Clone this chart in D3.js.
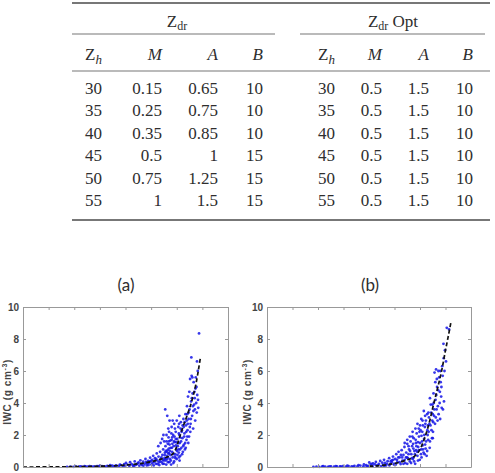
<!DOCTYPE html>
<html>
<head>
<meta charset="utf-8">
<script src="https://cdn.jsdelivr.net/npm/d3@7"></script>
<style>
  html, body { margin: 0; padding: 0; background: #fff; overflow: hidden; }
  svg { display: block; }
</style>
</head>
<body>
<svg id="viz"></svg>
<script>
// table values
var zhValues = ["30", "35", "40", "45", "50", "55"]
var zdrM = ["0.15", "0.25", "0.35", "0.5", "0.75", "1"]
var zdrA = ["0.65", "0.75", "0.85", "1", "1.25", "1.5"]
var zdrB = ["10", "10", "10", "15", "15", "15"]
var optM = ["0.5", "0.5", "0.5", "0.5", "0.5", "0.5"]
var optA = ["1.5", "1.5", "1.5", "1.5", "1.5", "1.5"]
var optB = ["10", "10", "10", "10", "10", "10"]

// scatter panels: [reflectivity dBZ, IWC]
var xTicks = [-10, 0, 10, 20, 30, 40, 50, 60, 70]
var yTicks = [0, 2, 4, 6, 8, 10]

var pointsA = [
  [7.2,0.01],[8.5,0.02],[9.8,0.01],[10.6,0.03],[11.9,0.02],[13.1,0.01],[14.4,0.03],[15.2,0.02],[16.7,0.04],[17.5,0.02],
  [18.9,0.05],[19.6,0.03],[20.8,0.06],[21.7,0.04],[22.9,0.07],[23.6,0.03],[24.8,0.08],[25.5,0.05],[26.3,0.1],[27.4,0.06],
  [28.2,0.12],[29.1,0.04],[29.9,0.09],[30.7,0.15],[31.5,0.07],[32.4,0.18],[33.2,0.05],[33.9,0.12],[34.7,0.22],[35.4,0.08],
  [12.5,0.04],[14.0,0.05],[16.0,0.06],[18.0,0.02],[20.0,0.08],[22.0,0.02],[24.0,0.11],[26.0,0.03],[27.8,0.15],[29.5,0.18],
  [30.2,0.25],[31.8,0.3],[32.9,0.1],[33.6,0.35],[34.3,0.16],[35.1,0.28],[35.8,0.42],[36.4,0.12],[36.9,0.33],[37.5,0.2],
  [37.8,0.5],[38.3,0.1],[38.8,0.38],[39.2,0.26],[39.6,0.58],[40.1,0.15],[40.4,0.45],[40.8,0.7],[41.2,0.3],[41.5,0.55],
  [41.9,0.2],[42.2,0.85],[42.5,0.4],[42.9,0.65],[43.2,0.12],[43.5,0.95],[43.8,0.5],[44.1,0.3],[44.4,0.75],[44.7,1.1],
  [36.0,0.2],[37.0,0.08],[38.0,0.3],[39.0,0.12],[40.0,0.38],[41.0,0.1],[42.0,0.5],[43.0,0.28],[44.0,0.6],[45.0,0.4],
  [38.5,0.22],[39.5,0.35],[40.5,0.25],[41.5,0.4],[42.5,0.18],[43.5,0.35],[44.5,0.2],[45.5,0.5],[46.5,0.6],[47.5,0.75],
  [45.0,0.2],[45.2,0.55],[45.4,0.9],[45.6,1.3],[45.8,0.4],[46.0,1.6],[46.2,0.7],[46.4,1.05],[46.6,0.3],[46.8,1.85],
  [47.0,0.85],[47.2,1.4],[47.4,0.5],[47.6,1.2],[47.8,0.15],[48.0,1.7],[48.2,0.95],[48.4,0.6],[48.6,2.0],[48.8,1.3],
  [49.0,0.35],[49.2,1.55],[49.4,0.8],[49.6,2.2],[49.8,1.1],[50.0,0.5],[50.2,1.75],[50.4,1.3],[50.6,2.5],[50.8,0.9],
  [51.0,2.0],[51.2,1.5],[51.4,0.7],[51.6,2.8],[51.8,1.2],[52.0,2.3],[52.2,1.8],[52.4,0.95],[52.6,3.0],[52.8,1.4],
  [44.6,0.45],[45.3,0.75],[46.1,0.95],[46.9,1.15],[47.5,1.65],[48.3,1.45],[49.1,1.9],[49.9,1.55],[50.7,1.1],[51.3,1.85],
  [45.9,0.15],[47.1,0.3],[48.7,0.25],[49.5,0.55],[50.3,0.75],[51.1,0.4],[46.5,1.45],[47.9,2.1],[49.3,2.4],[50.9,2.7],
  [46.3,0.5],[46.7,0.85],[47.3,1.0],[47.7,0.4],[48.1,1.2],[48.5,0.8],[48.9,1.6],[49.3,0.65],[49.7,1.35],[50.1,1.0],
  [50.5,1.5],[50.9,0.6],[51.3,1.1],[51.7,1.6],[52.1,0.8],[52.5,1.3],[52.9,1.9],[53.3,1.5],[53.7,2.2],[54.1,1.9],
  [45.7,1.0],[46.9,1.6],[48.2,1.85],[49.6,1.75],[50.8,2.1],[51.9,2.2],[52.7,2.5],[53.5,1.2],[54.3,2.7],[55.1,2.5],
  [42.8,1.3],[43.7,1.5],[44.3,1.75],[45.1,1.6],[46.0,2.0],[47.0,2.2],[48.0,2.5],[49.0,2.7],[50.0,2.9],[51.0,3.2],
  [53.0,2.1],[53.2,1.1],[53.4,3.3],[53.6,2.6],[53.8,1.7],[54.0,3.8],[54.2,2.3],[54.4,4.4],[54.6,3.0],[54.8,1.9],
  [55.0,3.6],[55.2,5.5],[55.4,2.7],[55.6,4.1],[55.8,5.7],[56.0,3.2],[56.2,4.6],[56.4,2.4],[56.6,5.3],[56.8,3.9],
  [57.0,4.3],[57.2,2.9],[57.4,5.6],[57.6,4.0],[57.8,3.4],[58.0,4.5],[58.2,6.0],[58.4,3.7],[58.7,8.35],[55.7,6.85],
  [57.9,6.6],[56.1,5.6],[54.9,4.7],[53.9,2.9],[54.5,1.5],[55.3,2.2],[56.5,3.5],[57.3,4.9],[55.9,4.3],[56.9,4.7],
  [54.7,3.4],[55.5,3.0],[56.3,3.8],[57.1,3.6],[57.7,5.0],[58.3,4.2],[53.1,2.8],[54.1,3.3],[52.3,2.6],[51.5,2.4],
  [45.5,3.6],[46.3,3.2],[47.2,2.9],[44.8,2.0],[46.7,2.4],[48.4,2.9]
]

var fitA = [
  [-10,0],[0,0.005],[10,0.02],[20,0.05],[30,0.12],[35,0.2],[40,0.33],[44,0.5],[47,0.68],[49,0.9],
  [50,1.3],[51,1.8],[52,2.3],[54,3.2],[56,4.2],[57.5,5.2],[58.7,6.3],[59.3,6.9]
]

var pointsB = [
  [8.2,0.01],[9.4,0.02],[10.5,0.01],[11.7,0.03],[12.8,0.02],[13.9,0.01],[15.1,0.03],[16.3,0.02],[17.4,0.04],[18.6,0.03],
  [19.7,0.05],[20.9,0.02],[22.0,0.06],[23.2,0.04],[24.3,0.07],[25.5,0.05],[26.6,0.09],[27.8,0.04],[28.9,0.11],[29.7,0.07],
  [30.6,0.14],[31.4,0.05],[32.3,0.17],[33.1,0.09],[33.9,0.2],[34.8,0.06],[35.6,0.13],[36.3,0.25],
  [12.0,0.05],[14.5,0.04],[17.0,0.06],[19.0,0.02],[21.5,0.08],[23.8,0.02],[25.9,0.12],[28.0,0.16],[29.2,0.03],[31.0,0.2],
  [30.1,0.28],[31.6,0.22],[32.7,0.32],[33.5,0.12],[34.4,0.38],[35.2,0.27],[35.9,0.45],[36.7,0.1],[37.3,0.36],[37.9,0.55],
  [38.4,0.2],[38.9,0.42],[39.4,0.65],[39.8,0.15],[40.3,0.5],[40.7,0.8],[41.1,0.3],[41.6,0.95],[42.0,0.6],[42.4,0.18],
  [42.8,1.05],[43.1,0.4],[43.5,0.75],[43.9,1.25],[44.2,0.25],[44.6,0.9],[45.0,1.45],[45.3,0.55],[45.7,1.1],[46.0,0.35],
  [36.0,0.06],[37.0,0.2],[38.0,0.1],[39.0,0.3],[40.0,0.2],[41.0,0.45],[42.0,0.3],[43.0,0.6],[44.0,0.45],[45.0,0.2],
  [38.5,0.35],[39.5,0.45],[40.5,0.15],[41.5,0.6],[42.5,0.75],[43.5,0.2],[44.5,0.6],[45.5,0.8],[46.5,0.25],[47.5,0.6],
  [46.3,1.6],[46.6,0.8],[46.9,1.3],[47.2,0.5],[47.5,1.8],[47.8,1.0],[48.1,0.2],[48.4,1.5],[48.7,2.1],[49.0,0.7],
  [49.3,1.25],[49.6,1.9],[49.9,0.45],[50.2,2.3],[50.5,1.1],[50.8,1.6],[51.1,2.6],[51.4,0.9],[51.7,2.0],[52.0,1.4],
  [52.3,2.9],[52.6,0.7],[52.9,2.3],[53.2,1.7],[53.5,3.1],[53.8,1.2],[54.1,2.6],[54.4,3.4],[54.7,1.8],
  [46.1,1.0],[47.0,1.9],[47.7,0.35],[48.5,1.05],[49.2,1.55],[49.8,2.2],[50.4,0.8],[51.0,1.35],[51.6,1.75],[52.2,1.15],
  [45.5,1.3],[44.9,0.6],[47.3,1.45],[48.9,0.95],[50.6,1.95],[51.9,2.5],[53.0,2.0],[53.7,2.7],
  [46.8,0.55],[47.4,1.15],[48.0,0.8],[48.6,1.3],[49.2,0.4],[49.6,1.05],[50.0,1.5],[50.6,0.6],[51.2,1.1],[51.8,0.8],
  [52.4,1.6],[52.8,1.0],[53.4,2.2],[53.9,1.6],[54.5,2.3],[55.0,1.8],[48.3,1.7],[49.5,2.4],[50.9,2.2],[52.1,2.7],
  [44.0,1.5],[45.0,1.7],[46.0,1.9],[47.1,2.2],[48.2,2.4],[49.0,2.7],[50.0,2.6],[51.0,2.9],[53.1,2.6],[54.8,2.9],
  [54.9,3.9],[55.1,2.2],[55.3,4.6],[55.5,3.2],[55.7,5.9],[55.9,2.7],[56.1,4.2],[56.3,6.1],[56.5,3.6],[56.7,5.0],
  [56.9,2.9],[57.1,4.8],[57.3,3.3],[57.5,5.6],[57.7,4.0],[57.9,3.0],[58.1,5.3],[58.3,4.4],[58.5,3.7],[58.7,6.3],
  [59.0,3.6],[59.2,7.7],[59.4,4.1],[59.8,7.3],[60.2,6.6],[60.5,8.7],[61.4,8.6],[59.6,6.0],[58.9,5.7],[57.2,6.0],
  [56.0,5.3],[55.0,3.3],[54.2,3.9],[53.3,3.4],[52.8,3.3],[53.9,4.3],[55.4,4.0],[50.5,3.0],[51.5,3.5],[52.0,3.2],
  [55.6,3.6],[56.4,4.5],[57.0,3.8],[57.8,4.7],[58.4,5.0],[56.6,5.5],[55.2,2.8],[56.2,3.1],[58.0,6.0],[59.3,6.8]
]

var fitB = [
  [30,0.05],[35,0.1],[40,0.22],[44,0.4],[48,0.7],[50,1.1],[52,1.9],[54,3.0],[55,3.7],[57,5.0],
  [58.6,6.1],[60,7.3],[61,8.1],[62.2,9.1]
]

var dimensions = { width: 495, height: 473 }
var svg = d3.select("#viz")
    .attr("width", dimensions.width)
    .attr("height", dimensions.height)

var serif = "'Liberation Serif', 'Times New Roman', serif"
var textColor = "#2e2e2e"

// ---------- table ----------
var table = svg.append("g").attr("font-family", serif).attr("font-size", 17).attr("fill", textColor)
var ruleColor = "#777"

var rowY = d3.scaleLinear().domain([0, 5]).range([94, 206])

function rule(x1, x2, y, w) {
    table.append("line")
        .attr("x1", x1).attr("x2", x2)
        .attr("y1", y).attr("y2", y)
        .attr("stroke", ruleColor)
        .attr("stroke-width", w)
}
rule(72, 490, 3, 2)
rule(72, 275, 34, 1.2)
rule(300, 485, 34, 1.2)
rule(72, 490, 71, 1.2)
rule(72, 490, 220, 2)

function zdrHeader(x, suffix) {
    var t = table.append("text").attr("x", x).attr("y", 27).attr("text-anchor", "middle")
    t.append("tspan").text("Z")
    t.append("tspan").attr("font-size", 12).attr("dy", 3).text("dr")
    if (suffix) t.append("tspan").attr("dy", -3).text(" " + suffix)
}
zdrHeader(177, null)
zdrHeader(393, "Opt")

function zhHeader(x, anchor) {
    var t = table.append("text").attr("x", x).attr("y", 60).attr("text-anchor", anchor)
    t.append("tspan").text("Z")
    t.append("tspan").attr("font-style", "italic").attr("font-size", 13).attr("dy", 4).text("h")
}
function italicHeader(x, label) {
    table.append("text").attr("x", x).attr("y", 60).attr("text-anchor", "end")
        .attr("font-style", "italic").text(label)
}

var leftCols = [
    { x: 85, anchor: "start", values: zhValues },
    { x: 162, anchor: "end", values: zdrM, head: "M" },
    { x: 218, anchor: "end", values: zdrA, head: "A" },
    { x: 263, anchor: "end", values: zdrB, head: "B" }
]
var rightCols = [
    { x: 335, anchor: "end", values: zhValues },
    { x: 382, anchor: "end", values: optM, head: "M" },
    { x: 429, anchor: "end", values: optA, head: "A" },
    { x: 473, anchor: "end", values: optB, head: "B" }
]
zhHeader(85, "start")
zhHeader(335, "end")

leftCols.concat(rightCols).forEach(function(col) {
    if (col.head) italicHeader(col.x, col.head)
    table.selectAll(null)
        .data(col.values)
        .enter()
        .append("text")
        .attr("x", col.x)
        .attr("y", (d, i) => rowY(i))
        .attr("text-anchor", col.anchor)
        .text(d => d)
})

// ---------- scatter panels ----------
function drawPanel(opts) {
    var g = svg.append("g")
    var xScale = d3.scaleLinear().domain([-10, 70]).range([opts.left, opts.right])
    var yScale = d3.scaleLinear().domain([0, 10]).range([467, 307])

    g.append("text")
        .attr("x", opts.titleX)
        .attr("y", 291)
        .attr("text-anchor", "middle")
        .attr("font-family", "Lato, 'Open Sans', sans-serif")
        .attr("font-size", 17)
        .attr("fill", textColor)
        .text(opts.title)

    g.append("g")
        .selectAll("circle")
        .data(opts.points)
        .enter()
        .append("circle")
        .attr("cx", d => xScale(d[0]))
        .attr("cy", d => yScale(d[1]))
        .attr("r", 1.4)
        .attr("fill", "#1414e6")
        .attr("fill-opacity", 0.85)

    var line = d3.line().x(d => xScale(d[0])).y(d => yScale(d[1])).curve(d3.curveMonotoneX)
    g.append("path")
        .datum(opts.fit)
        .attr("d", line)
        .attr("fill", "none")
        .attr("stroke", "#111")
        .attr("stroke-width", 1.7)
        .attr("stroke-dasharray", "4,2.5")

    var axisStyle = function(sel) {
        sel.select(".domain").attr("stroke", "#999")
        sel.selectAll(".tick line").attr("stroke", "#999")
        sel.selectAll("text")
            .attr("font-family", "'Liberation Sans', Arial, sans-serif")
            .attr("font-weight", "bold")
            .attr("font-size", 10)
            .attr("fill", "#444")
    }

    g.append("g")
        .attr("transform", `translate(0, ${yScale(0)})`)
        .call(d3.axisBottom(xScale).tickValues(xTicks).tickSizeInner(-3).tickSizeOuter(0).tickPadding(7))
        .call(axisStyle)
    g.append("g")
        .attr("transform", `translate(0, ${yScale(10)})`)
        .call(d3.axisTop(xScale).tickValues(xTicks).tickSizeInner(-3).tickSizeOuter(0).tickFormat(""))
        .call(axisStyle)
    g.append("g")
        .attr("transform", `translate(${opts.left}, 0)`)
        .call(d3.axisLeft(yScale).tickValues(yTicks).tickSizeInner(-3).tickSizeOuter(0).tickPadding(4))
        .call(axisStyle)
    g.append("g")
        .attr("transform", `translate(${opts.right}, 0)`)
        .call(d3.axisRight(yScale).tickValues(yTicks).tickSizeInner(-3).tickSizeOuter(0).tickFormat(""))
        .call(axisStyle)

    var label = g.append("text")
        .attr("transform", `translate(${opts.labelX}, 392) rotate(-90)`)
        .attr("text-anchor", "middle")
        .attr("font-family", "'Liberation Sans', Arial, sans-serif")
        .attr("font-weight", "bold")
        .attr("font-size", 10)
        .attr("letter-spacing", 0.6)
        .attr("fill", "#444")
    label.append("tspan").text("IWC  (g cm")
    label.append("tspan").attr("font-size", 7).attr("dy", -4).text("-3")
    label.append("tspan").attr("dy", 4).text(")")
}

drawPanel({ left: 23, right: 228, titleX: 126, labelX: 11, title: "(a)", points: pointsA, fit: fitA })
drawPanel({ left: 267, right: 471, titleX: 370, labelX: 251, title: "(b)", points: pointsB, fit: fitB })
</script>
</body>
</html>
